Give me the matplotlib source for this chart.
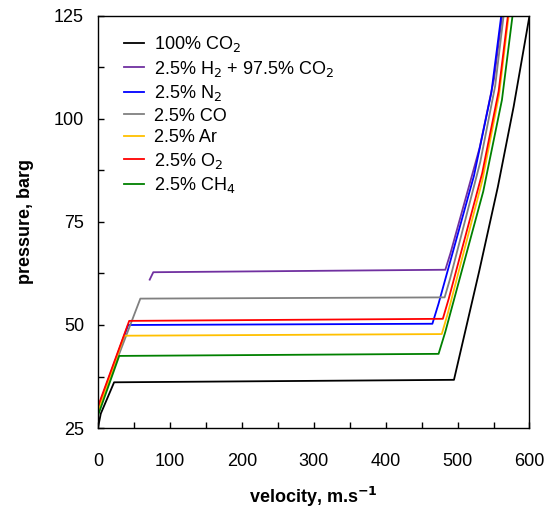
import numpy as np
import matplotlib
matplotlib.use('Agg')
import matplotlib.pyplot as plt
from matplotlib.ticker import MultipleLocator

plt.rcParams['font.family'] = ['Liberation Sans', 'DejaVu Sans']

# curves: velocity (m/s) and pressure (barg)
labels = ['100% CO$_2$', '2.5% H$_2$ + 97.5% CO$_2$', '2.5% N$_2$', '2.5% CO',
          '2.5% Ar', '2.5% O$_2$', '2.5% CH$_4$']
colors = ['#000000', '#7030A0', '#0000FF', '#808080', '#FFC000', '#FF0000', '#008000']

v_co2 = [0, 4, 22.5, 495, 530, 556, 578, 600]
p_co2 = [25, 28.5, 36.1, 36.7, 63, 83.5, 103, 125]
v_h2 = [72, 77, 483, 490.1, 530.7, 550.7, 562]
p_h2 = [61, 62.8, 63.4, 67.4, 93.0, 109.7, 125]
v_n2 = [0, 42, 465, 473.6, 522.8, 547, 560.7]
p_n2 = [29.8, 50, 50.3, 55.2, 86.2, 106.4, 125]
v_co = [0, 59, 482, 489.4, 531.5, 552.3, 564]
p_co = [29.5, 56.4, 56.7, 61.1, 89.5, 108.0, 125]
v_ar = [0, 36.5, 478, 486.4, 534.2, 557.7, 571]
p_ar = [29, 47.4, 47.8, 52.8, 84.9, 105.8, 125]
v_o2 = [0, 43.5, 479.5, 487.6, 534.2, 557.1, 570]
p_o2 = [30.2, 51, 51.5, 56.3, 86.8, 106.7, 125]
v_ch4 = [0, 29.6, 473.6, 482.9, 535.7, 561.7, 576.4]
p_ch4 = [28, 42.5, 43, 48.3, 82.4, 104.6, 125]

vs = [v_co2, v_h2, v_n2, v_co, v_ar, v_o2, v_ch4]
ps = [p_co2, p_h2, p_n2, p_co, p_ar, p_o2, p_ch4]

fig = plt.figure(figsize=(5.47, 5.09), dpi=100)
ax = fig.add_axes([0.179, 0.159, 0.789, 0.810])

for v, p, c, lab in zip(vs, ps, colors, labels):
    ax.plot(v, p, color=c, lw=1.3, label=lab)

ax.set_xlim(0, 600)
ax.set_ylim(25, 125)
ax.xaxis.set_major_locator(MultipleLocator(100))
ax.xaxis.set_minor_locator(MultipleLocator(50))
ax.yaxis.set_major_locator(MultipleLocator(25))
ax.yaxis.set_minor_locator(MultipleLocator(12.5))
ax.tick_params(which='both', direction='in', length=4, width=1)
ax.tick_params(axis='x', which='major', pad=18, labelsize=13)
ax.tick_params(axis='y', which='major', pad=10, labelsize=13)
for s in ax.spines.values():
    s.set_linewidth(1)

ax.set_xlabel('velocity, m.s$^{\\mathbf{-1}}$', fontsize=13, fontweight='bold', labelpad=11)
ax.set_ylabel('pressure, barg', fontsize=13, fontweight='bold', labelpad=14)

ax.legend(loc='upper left', bbox_to_anchor=(0.023, 0.995), frameon=False, fontsize=13,
          handlelength=1.1, handletextpad=0.55, labelspacing=0.25)

fig.savefig('out.png', dpi=100)
